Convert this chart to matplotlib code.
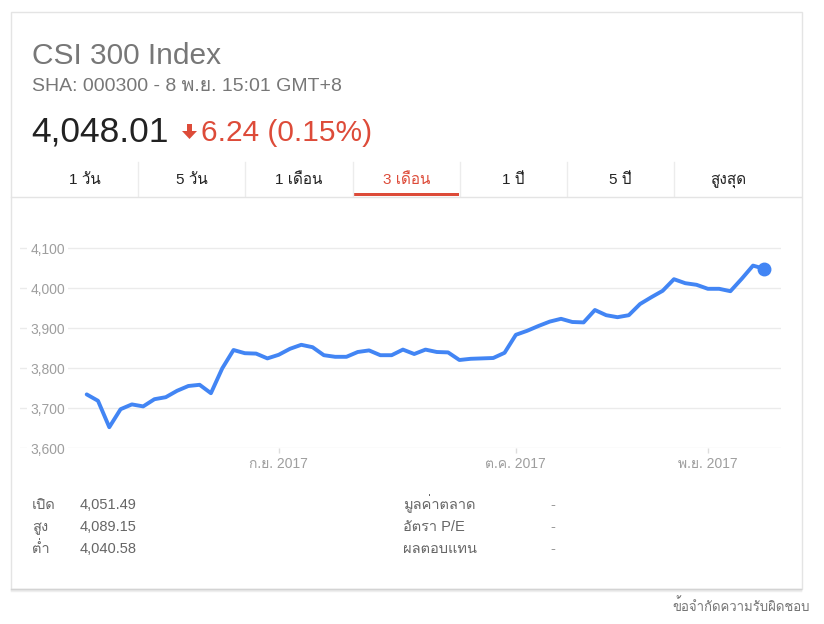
import numpy as np
import matplotlib
matplotlib.use('Agg')
import matplotlib.pyplot as plt
from matplotlib import font_manager
from matplotlib.patches import Rectangle, Polygon
from matplotlib.lines import Line2D
from fontTools.ttLib import TTFont

# CSI 300 close, trading days 9 Aug 2017 - 8 Nov 2017
closes = [3734, 3718, 3652, 3697, 3709, 3704, 3722, 3727, 3743, 3755,
          3758, 3737, 3799, 3845, 3837, 3836, 3824,
          3833, 3848, 3858, 3852, 3832, 3828, 3828, 3840, 3844, 3832,
          3832, 3846, 3835, 3846, 3840, 3839, 3820, 3823, 3824, 3825, 3838,
          3883, 3893, 3905, 3916, 3923, 3915, 3914, 3945, 3932, 3927,
          3932, 3960, 3977, 3993, 4022, 4012, 4008,
          3998, 3998, 3992, 4023, 4056, 4048.01]
month_starts = [17, 38, 55]          # first trading day of Sep / Oct / Nov
month_labels = ['ก.ย. 2017', 'ต.ค. 2017', 'พ.ย. 2017']
y_ticks = [3600, 3700, 3800, 3900, 4000, 4100]

tabs = ['1 วัน', '5 วัน', '1 เดือน', '3 เดือน', '1 ปี', '5 ปี', 'สูงสุด']
active_tab = 3

stat_names = ['เปิด', 'สูง', 'ต่ำ']
stat_values = ['4,051.49', '4,089.15', '4,040.58']
stat_names2 = ['มูลค่าตลาด', 'อัตรา P/E', 'ผลตอบแทน']
stat_values2 = ['-', '-', '-']


# find some installed font that has Thai glyphs
def find_thai_font():
    for f in font_manager.fontManager.ttflist:
        try:
            tt = TTFont(f.fname, fontNumber=0, lazy=True)
            if 0x0E01 in tt.getBestCmap():
                return f.name
        except Exception:
            pass
    return None


thai = find_thai_font()
fams = ['Liberation Sans'] + ([thai] if thai else []) + ['DejaVu Sans']
plt.rcParams['font.family'] = fams

W, H = 824, 624
fig = plt.figure(figsize=(W / 100, H / 100), dpi=100)
fig.patch.set_facecolor('white')


def P(x, y):
    return (x / W, 1 - y / H)


def ftext(x, y, s, **kw):
    fig.text(x / W, 1 - y / H, s, **kw)


# card with a soft shadow at the bottom
for i, c in enumerate(['#d0d0d0', '#e2e2e2', '#eeeeee']):
    fig.add_artist(Line2D([11 / W, 801 / W], [1 - (589 + i) / H] * 2,
                          color=c, lw=1))
fig.add_artist(Rectangle(P(10.5, 588.5), 791 / W, 577 / H,
                         fill=False, ec='#e4e4e4', lw=1))

# header
ftext(32, 64, 'CSI 300 Index', fontsize=21.5, color='#777777', va='baseline')
ftext(32, 91, 'SHA: 000300 - 8 พ.ย. 15:01 GMT+8', fontsize=14,
      color='#777777', va='baseline')
ftext(31, 141, '4,048.01', fontsize=25.5, color='#222222', va='baseline')
ftext(201, 141, '6.24 (0.15%)', fontsize=21.5, color='#dd4b39', va='baseline')
arrow = [(187, 124), (192, 124), (192, 131), (197, 131), (189.5, 139),
         (182, 131), (187, 131)]
fig.add_artist(Polygon([P(x, y) for x, y in arrow], closed=True,
                       fc='#dd4b39', ec='none'))

# tabs
tab_w = 107.2
for i, t in enumerate(tabs):
    x0 = 31 + i * tab_w
    col = '#dd4b39' if i == active_tab else '#222222'
    ftext(x0 + tab_w / 2, 184, t, fontsize=11, color=col, ha='center',
          va='baseline')
    if i > 0:
        fig.add_artist(Line2D([x0 / W] * 2, [1 - 162 / H, 1 - 196 / H],
                              color='#ececec', lw=1))
fig.add_artist(Line2D([11 / W, 801 / W], [1 - 196.5 / H] * 2,
                      color='#e4e4e4', lw=1))
xa = 31 + active_tab * tab_w
fig.add_artist(Rectangle(P(xa + 1, 196), (tab_w - 2) / W, 3 / H,
                         fc='#dd4b39', ec='none'))

# price chart
ax = fig.add_axes([20 / W, 1 - 448 / H, 761 / W, 212 / H])
idx = np.arange(len(closes))
ax.plot(idx, closes, color='#4285f4', lw=2.8, solid_joinstyle='round',
        solid_capstyle='round', zorder=3)
ax.plot(idx[-1], closes[-1], 'o', color='#4285f4', ms=9, zorder=4)

px_per_day = (764.3 - 86.7) / (len(closes) - 1)
ax.set_xlim(-(86.7 - 20) / px_per_day, (781 - 86.7) / px_per_day)
ax.set_ylim(3600, 3600 + 212 * 2.5)

ax.set_yticks(y_ticks)
ax.set_yticklabels([f'{v:,}' for v in y_ticks])
ax.tick_params(axis='y', length=0, pad=-45 * 0.72, labelsize=10,
               labelcolor='#9e9e9e')
for lbl in ax.get_yticklabels():
    lbl.set_bbox(dict(fc='white', ec='none', pad=2.5))
ax.grid(axis='y', color='#ebebeb', lw=1)

ax.set_xticks(month_starts)
ax.set_xticklabels(month_labels)
ax.tick_params(axis='x', length=5 * 0.72, width=1, color='#dddddd',
               labelsize=10, labelcolor='#9e9e9e', pad=3)
for s in ax.spines.values():
    s.set_visible(False)
ax.set_facecolor('none')

# stats under the chart
for i in range(3):
    y = 509 + i * 22
    ftext(32, y, stat_names[i], fontsize=10.5, color='#666666', va='baseline')
    ftext(80, y, stat_values[i], fontsize=10.5, color='#666666', va='baseline')
    ftext(403, y, stat_names2[i], fontsize=10.5, color='#666666', va='baseline')
    ftext(550, y, stat_values2[i], fontsize=10.5, color='#999999', va='baseline')

ftext(810, 611, 'ข้อจำกัดความรับผิดชอบ', fontsize=9.5, color='#777777',
      ha='right', va='baseline')

fig.savefig('out.png', dpi=100, facecolor='white')
